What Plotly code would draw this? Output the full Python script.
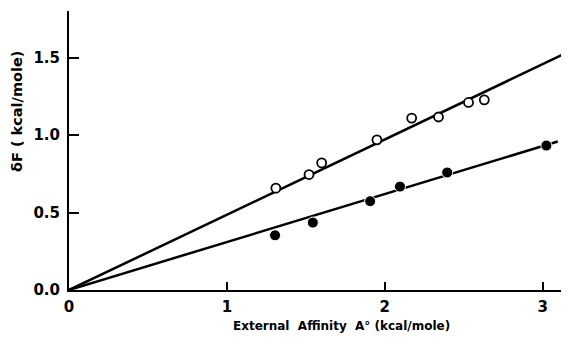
import plotly.graph_objects as go

# Data
open_x = [1.31, 1.52, 1.60, 1.95, 2.17, 2.34, 2.53, 2.63]
open_y = [0.657, 0.745, 0.82, 0.969, 1.109, 1.116, 1.21, 1.227]
filled_x = [1.305, 1.544, 1.907, 2.096, 2.395, 3.023]
filled_y = [0.353, 0.435, 0.573, 0.667, 0.758, 0.932]
upper_line_x = [0.0, 3.15]
upper_line_y = [0.0, 1.53]
lower_line_x = [0.0, 3.095]
lower_line_y = [0.0, 0.958]

x_ticks = [0, 1, 2, 3]
x_tick_labels = ["0", "1", "2", "3"]
y_ticks = [0.0, 0.5, 1.0, 1.5]
y_tick_labels = ["0.0", "0.5", "1.0", "1.5"]

FONT = "DejaVu Sans"

# page has an 8px body margin, so the figure is offset by (8, 8)
W, H = 561, 329
L, R, T, B = 61, 1, 3, 47
PW, PH = W - L - R, H - T - B

fig = go.Figure()
fig.add_trace(go.Scatter(x=upper_line_x, y=upper_line_y, mode="lines",
                         line=dict(color="black", width=2.5), showlegend=False))
fig.add_trace(go.Scatter(x=lower_line_x, y=lower_line_y, mode="lines",
                         line=dict(color="black", width=2.5), showlegend=False))
fig.add_trace(go.Scatter(x=open_x, y=open_y, mode="markers",
                         marker=dict(symbol="circle", size=9, color="white",
                                     line=dict(color="black", width=1.8)),
                         showlegend=False))
fig.add_trace(go.Scatter(x=filled_x, y=filled_y, mode="markers",
                         marker=dict(symbol="circle", size=11, color="black",
                                     line=dict(color="white", width=1)),
                         showlegend=False))

fig.update_layout(
    width=W, height=H,
    margin=dict(l=L, r=R, t=T, b=B),
    paper_bgcolor="white", plot_bgcolor="white",
    font=dict(family=FONT, color="black"),
    xaxis=dict(range=[0, 3.16], tickvals=x_ticks, ticktext=x_tick_labels,
               showgrid=False, zeroline=False, showline=True, linecolor="black",
               linewidth=2, ticks="inside", ticklen=8, tickwidth=2, tickcolor="black",
               tickfont=dict(size=15, family=FONT, weight="bold"), ticklabelstandoff=2),
    yaxis=dict(range=[0, 1.80], tickvals=y_ticks, ticktext=y_tick_labels,
               showgrid=False, zeroline=False, showline=True, linecolor="black",
               linewidth=2, ticks="inside", ticklen=10, tickwidth=2, tickcolor="black",
               tickfont=dict(size=15, family=FONT, weight="bold"), ticklabelstandoff=4),
    annotations=[
        dict(text="<b>External  Affinity  A° (kcal/mole)</b>", xref="paper", yref="paper",
             x=(341 - 69) / PW, y=-(326 - 290) / PH, xanchor="center", yanchor="middle",
             showarrow=False, font=dict(size=12, family=FONT)),
        dict(text="<b>δF ( kcal/mole)</b>", xref="paper", yref="paper",
             x=(17 - 69) / PW, y=(290 - 112) / PH, xanchor="center", yanchor="middle",
             textangle=-90, showarrow=False, font=dict(size=14.5, family=FONT)),
    ],
)

fig.write_html("out.html")
